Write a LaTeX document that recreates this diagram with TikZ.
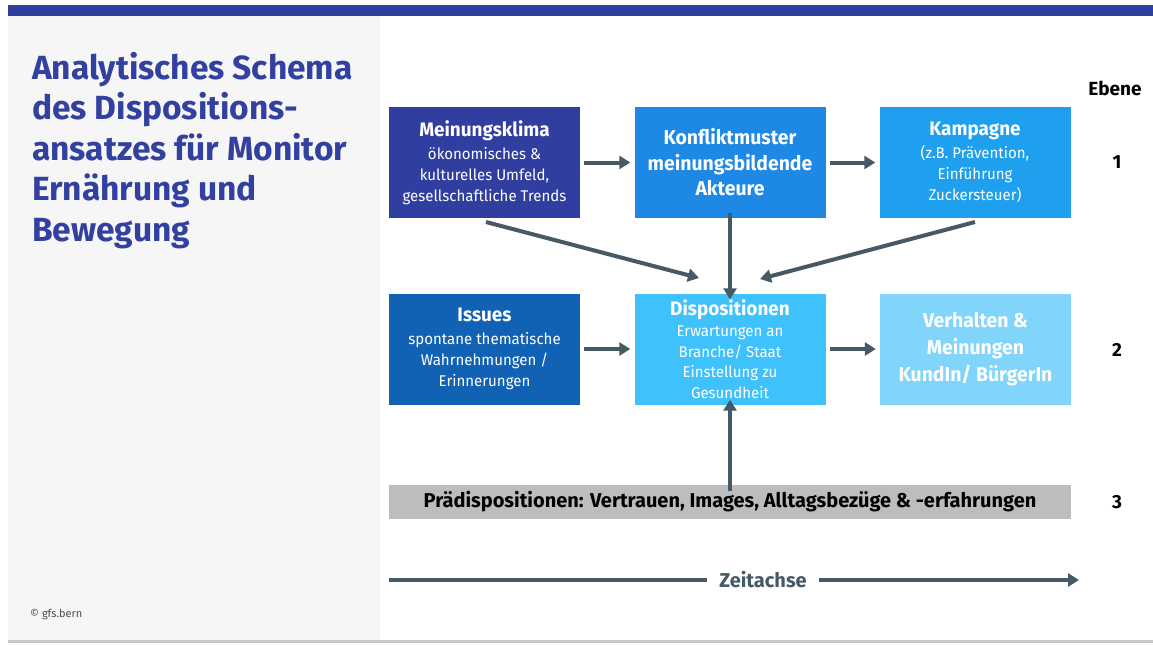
\documentclass[tikz,border=0pt]{standalone}
\usepackage{fontspec}
\setmainfont{Fira Sans}
\newfontfamily\cond[FakeStretch=0.97]{Fira Sans}
\usetikzlibrary{arrows.meta}
\definecolor{titleblue}{HTML}{3240A0}
\definecolor{barblue}{HTML}{2F3F9E}
\definecolor{panelgray}{HTML}{F6F6F6}
\definecolor{linegray}{HTML}{C8C8C8}
\definecolor{arrowgray}{HTML}{455A64}
\definecolor{cA}{HTML}{303F9F}
\definecolor{cB}{HTML}{1E88E5}
\definecolor{cC}{HTML}{1EA0EE}
\definecolor{cD}{HTML}{1162B4}
\definecolor{cE}{HTML}{3FC2FB}
\definecolor{cF}{HTML}{81D4FA}
\definecolor{cG}{HTML}{BDBDBD}
\tikzset{
  box/.style={minimum width=191pt, minimum height=111pt, inner sep=0pt, text=white, align=center, font=\cond\fontsize{15.5}{21}\selectfont},
  conn/.style={draw=arrowgray, line width=4pt, -{Triangle[length=11pt,width=13pt]}},
  head/.style={font=\cond\bfseries\fontsize{20}{25.5}\selectfont},
  lvl/.style={font=\bfseries\fontsize{19}{22}\selectfont, text=black}
}
\newcommand{\bxhead}[1]{{\bfseries\fontsize{19.5}{22}\selectfont #1}}
\begin{document}
\begin{tikzpicture}[x=1pt,y=-1pt]
\useasboundingbox (0,0) rectangle (1153,645);
\fill[white] (0,0) rectangle (1153,645);
\fill[barblue] (8,5) rectangle (1153,15.5);
\fill[panelgray] (8,15.5) rectangle (380,640);
\fill[linegray] (8,640) rectangle (1153,643);
\node[anchor=north west, inner sep=0pt, text=titleblue, align=left,
  font=\bfseries\fontsize{33.5}{40.5}\selectfont] (title) at (32,52)
  {Analytisches Schema\\des Dispositions-\\ansatzes für Monitor\\Ernährung und\\Bewegung};
\node[anchor=west, inner sep=0pt, text=black!70, font=\fontsize{11}{13}\selectfont] (copy) at (30,615) {© gfs.bern};

\node[box, fill=cA] (mk) at (484.5,162.5) {\bxhead{Meinungsklima}\\[2pt]ökonomisches \&\\kulturelles Umfeld,\\gesellschaftliche Trends};
\node[box, fill=cB, head, align=center] (km) at (730,162.5) {Konfliktmuster\\meinungsbildende\\Akteure};
\node[box, fill=cC] (ka) at (975,162.5) {\bxhead{Kampagne}\\[2pt](z.B. Prävention,\\Einführung\\Zuckersteuer)};
\node[box, fill=cD] (is) at (484.5,349) {\bxhead{Issues}\\[2pt]spontane thematische\\Wahrnehmungen /\\Erinnerungen};
\node[box, fill=cE, font=\cond\fontsize{15.5}{20.5}\selectfont] (di) at (730,349) {\bxhead{Dispositionen}\\[1pt]Erwartungen an\\Branche/ Staat\\Einstellung zu\\Gesundheit};
\node[box, fill=cF, font=\cond\bfseries\fontsize{20}{27}\selectfont, align=center] (vh) at (975.5,349) {Verhalten \&\\Meinungen\\KundIn/ BürgerIn};
\node[minimum width=682pt, minimum height=34pt, inner sep=0pt, fill=cG, font=\bfseries\fontsize{20}{22}\selectfont] (pd) at (730,502) {Prädispositionen: Vertrauen, Images, Alltagsbezüge \& -erfahrungen};

\node[lvl] (eb) at (1115,88) {Ebene};
\node[lvl] (l1) at (1117,162) {1};
\node[lvl] (l2) at (1117,350) {2};
\node[lvl] (l3) at (1117,502) {3};

\coordinate (mkb) at (486,222);
\coordinate (kab) at (975,222);
\coordinate (t1) at (699,278);
\coordinate (t2) at (760,279);
\draw[conn] (mk.east) ++(4,0) -- ([xshift=-4pt]km.west);
\draw[conn] (km.east) ++(4,0) -- ([xshift=-4pt]ka.west);
\draw[conn] (is.east) ++(4,0) -- ([xshift=-4pt]di.west);
\draw[conn] (di.east) ++(4,0) -- ([xshift=-4pt]vh.west);
\draw[conn] (mkb) -- (t1);
\draw[conn] (kab) -- (t2);
\draw[conn] ([yshift=5pt]km.south) -- ([yshift=-6pt]di.north);
\draw[conn] ([yshift=-6pt]pd.north) -- ([yshift=5pt]di.south);

\node[inner sep=0pt, text=arrowgray, font=\bfseries\fontsize{20}{22}\selectfont] (za) at (763,580) {Zeitachse};
\coordinate (zs) at (389,580);
\coordinate (ze) at (1079,580);
\draw[draw=arrowgray, line width=4pt] (zs) -- ([xshift=-12pt]za.west);
\draw[conn] ([xshift=12pt]za.east) -- (ze);
\end{tikzpicture}
\end{document}
